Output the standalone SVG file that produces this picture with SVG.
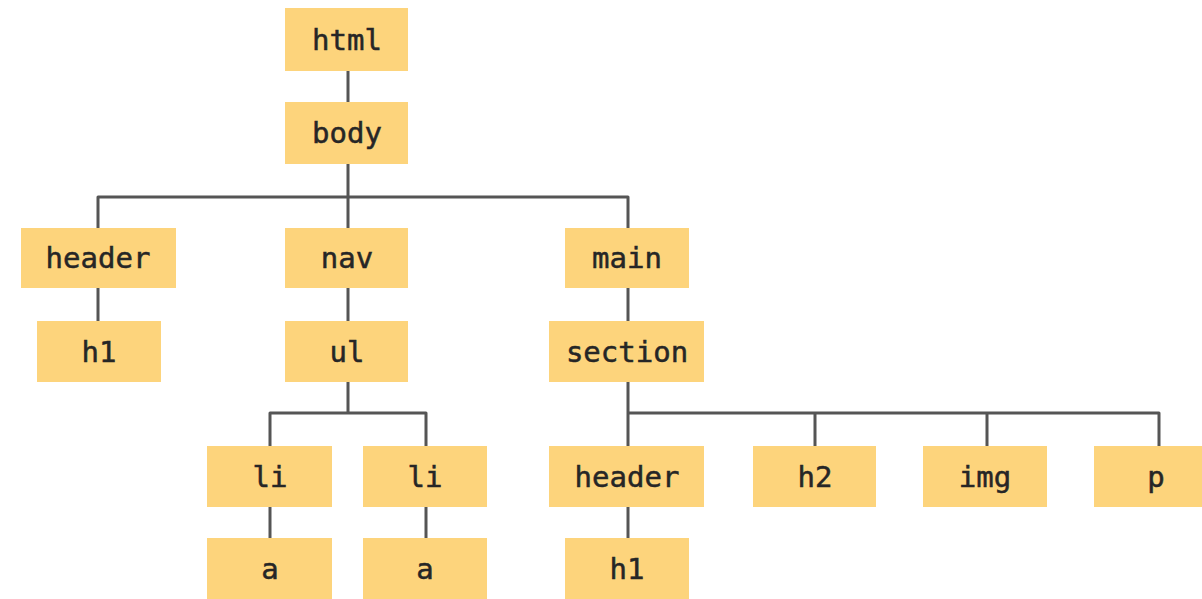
<svg xmlns="http://www.w3.org/2000/svg" width="1202" height="599" viewBox="0 0 1202 599">
  <style>
    .box { fill: #FDD47C; }
    .lbl { font-family: "DejaVu Sans Mono", "Liberation Mono", monospace; font-size: 29px; fill: #262626; stroke: #262626; stroke-width: 0.5; text-anchor: middle; }
    .wire { fill: none; stroke: #555555; stroke-width: 3; stroke-linejoin: round; stroke-linecap: butt; }
  </style>

  <!-- tree connectors -->
  <g id="connectors" class="wire">
    <path d="M348 71 V102"/>
    <path d="M348 164 V228 M98 228 V197 H628 V228"/>
    <path d="M98 288 V321"/>
    <path d="M348 288 V321"/>
    <path d="M628 288 V321"/>
    <path d="M348 382 V413 M270 446 V413 H426 V446"/>
    <path d="M270 507 V538"/>
    <path d="M426 507 V538"/>
    <path d="M628 382 V446 M628 413 H1159 V446 M815 413 V446 M987 413 V446"/>
    <path d="M628 507 V538"/>
  </g>

  <g id="html"><rect class="box" x="285" y="8" width="123" height="63"/><text class="lbl" x="347" y="50">html</text></g>
  <g id="body"><rect class="box" x="285" y="102" width="123" height="62"/><text class="lbl" x="347" y="143">body</text></g>

  <g id="header"><rect class="box" x="21" y="228" width="155" height="60"/><text class="lbl" x="98" y="268">header</text></g>
  <g id="nav"><rect class="box" x="285" y="228" width="123" height="60"/><text class="lbl" x="347" y="268">nav</text></g>
  <g id="main"><rect class="box" x="565" y="228" width="124" height="60"/><text class="lbl" x="627" y="268">main</text></g>

  <g id="header-h1"><rect class="box" x="37" y="321" width="124" height="61"/><text class="lbl" x="99" y="362">h1</text></g>
  <g id="ul"><rect class="box" x="285" y="321" width="123" height="61"/><text class="lbl" x="347" y="362">ul</text></g>
  <g id="section"><rect class="box" x="549" y="321" width="155" height="61"/><text class="lbl" x="627" y="362">section</text></g>

  <g id="li-1"><rect class="box" x="207" y="446" width="125" height="61"/><text class="lbl" x="270" y="487">li</text></g>
  <g id="li-2"><rect class="box" x="363" y="446" width="124" height="61"/><text class="lbl" x="425" y="487">li</text></g>
  <g id="section-header"><rect class="box" x="549" y="446" width="155" height="61"/><text class="lbl" x="627" y="487">header</text></g>
  <g id="h2"><rect class="box" x="753" y="446" width="123" height="61"/><text class="lbl" x="815" y="487">h2</text></g>
  <g id="img"><rect class="box" x="923" y="446" width="124" height="61"/><text class="lbl" x="985" y="487">img</text></g>
  <g id="p"><rect class="box" x="1094" y="446" width="130" height="61"/><text class="lbl" x="1156" y="487">p</text></g>

  <g id="a-1"><rect class="box" x="207" y="538" width="125" height="65"/><text class="lbl" x="270" y="579">a</text></g>
  <g id="a-2"><rect class="box" x="363" y="538" width="124" height="65"/><text class="lbl" x="425" y="579">a</text></g>
  <g id="section-header-h1"><rect class="box" x="565" y="538" width="124" height="65"/><text class="lbl" x="627" y="579">h1</text></g>
</svg>
